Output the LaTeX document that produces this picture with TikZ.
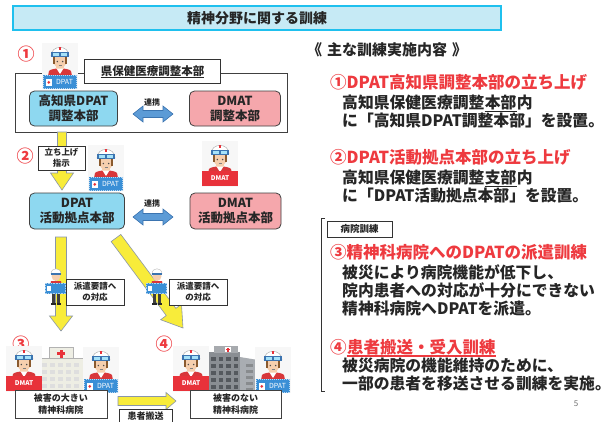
\documentclass[tikz,border=0pt]{standalone}
\usepackage{fontspec}
\setmainfont{Noto Sans CJK JP}
\usetikzlibrary{calc}

\definecolor{ttlfill}{HTML}{C6EAF5}
\definecolor{ttlline}{HTML}{1FC0EE}
\definecolor{hqblue}{HTML}{8ED8F0}
\definecolor{hqpink}{HTML}{F5A7AC}
\definecolor{redtxt}{HTML}{EE3A3F}
\definecolor{inkdark}{HTML}{262626}
\definecolor{yel}{HTML}{F8EC3A}
\definecolor{yelline}{HTML}{8A96A8}
\definecolor{linkblue}{HTML}{5C9BD6}
\definecolor{linkline}{HTML}{3B74B0}
\definecolor{dpatblue}{HTML}{3A8FD6}
\definecolor{dmatred}{HTML}{E8323A}
\definecolor{skin}{HTML}{F6CFAE}
\definecolor{vest}{HTML}{D8373A}
\definecolor{hair}{HTML}{8A5A2E}
\definecolor{hospwhite}{HTML}{EEEEE4}
\definecolor{bldg}{HTML}{8A8E93}
\definecolor{bldgside}{HTML}{A9ADB2}
\definecolor{bldgdark}{HTML}{55595E}

% block arrow: [style]{start}{end}{shaft half width}{head half width}{head length}
\newcommand\blockarrow[6][]{%
  \path ($(#3)!#6!(#2)$) coordinate (ba-h);
  \filldraw[#1] ($(#2)!#4!90:(#3)$) -- ($(ba-h)!#4!90:(#3)$) -- ($(ba-h)!#5!90:(#3)$)
    -- (#3) -- ($(ba-h)!#5!-90:(#3)$) -- ($(ba-h)!#4!-90:(#3)$) -- ($(#2)!#4!-90:(#3)$) -- cycle;
}
% double-headed block arrow, same arguments
\newcommand\twinarrow[6][]{%
  \path ($(#2)!#6!(#3)$) coordinate (ta-a) ($(#3)!#6!(#2)$) coordinate (ta-b);
  \filldraw[#1] (#2) -- ($(ta-a)!#5!90:(#3)$) -- ($(ta-a)!#4!90:(#3)$) -- ($(ta-b)!#4!-90:(#2)$)
    -- ($(ta-b)!#5!-90:(#2)$) -- (#3) -- ($(ta-b)!#5!90:(#2)$) -- ($(ta-b)!#4!90:(#2)$)
    -- ($(ta-a)!#4!-90:(#3)$) -- ($(ta-a)!#5!-90:(#3)$) -- cycle;
}
% rule under a text node: [style]{node}{drop below baseline}
\newcommand\underrule[3][]{%
  \draw[line width=1.1pt, #1] ([yshift=-#3]#2.base west) -- ([yshift=-#3]#2.base east);
}

% helmeted staff member, origin at top left, 36 x 46
\newcommand\workerhead{%
  \fill[black!3] (0,0) rectangle (36,46);
  \fill[vest] (5,38) -- (7,28) .. controls (10,24.5) and (26,24.5) .. (29,28) -- (31,38) -- cycle;
  \fill[skin] (14,22) rectangle (22,26);
  \fill[white] (14.5,25.5) -- (18,31) -- (21.5,25.5) -- cycle;
  \fill[skin] (18,18) ellipse [x radius=6.5, y radius=7];
  \fill[hair] (11,12) rectangle (12.8,21);
  \fill[hair] (23.2,12) rectangle (25,21);
  \filldraw[fill=white, draw=black!35, line width=0.4pt] (9,13) .. controls (9,1.5) and (27,1.5) .. (27,13) -- cycle;
  \fill[dmatred] (17,3.8) rectangle (19,7);
  \fill[linkline] (9,9) rectangle (27,13.5);
  \fill[cyan!35] (10.8,10) rectangle (17.2,12.6);
  \fill[cyan!35] (18.8,10) rectangle (25.2,12.6);
  \fill[black!70] (15.3,18.5) circle (0.8);
  \fill[black!70] (20.7,18.5) circle (0.8);
  \draw[black!50, line width=0.4pt] (16.5,22) -- (19.5,22);
}

\tikzset{
  every node/.style={inner sep=0pt, text=inkdark, font=\bfseries},
  hqbox/.style={draw=black!75, line width=0.8pt, rounded corners=5pt, align=center,
    font=\fontsize{12.5}{15}\selectfont\bfseries, minimum height=35pt},
  dpatbox/.style={hqbox, fill=hqblue},
  dmatbox/.style={hqbox, fill=hqpink},
  tagbox/.style={draw=black!80, fill=white, line width=0.8pt, align=center, inner sep=2pt,
    font=\fontsize{8.5}{11}\selectfont\bfseries},
  wardbox/.style={draw=black!75, fill=white, line width=0.9pt, align=center,
    font=\fontsize{9}{12}\selectfont\bfseries, minimum height=28pt},
  circnum/.style={text=redtxt, font=\fontsize{17}{17}\selectfont\bfseries},
  linktxt/.style={font=\fontsize{8}{8}\selectfont\bfseries},
  yarrow/.style={fill=yel, draw=yelline, line width=0.6pt, line join=miter},
  barrow/.style={fill=linkblue, draw=linkline, line width=0.6pt},
  redline/.style={anchor=base west, text=redtxt, font=\fontsize{16.5}{18}\selectfont\bfseries},
  blkline/.style={anchor=base west, text=inkdark, font=\fontsize{15.8}{18}\selectfont\bfseries},
  dpatworker/.pic={\workerhead
    \fill[dpatblue] (1,32) rectangle (35,46);
    \draw[white!65!dpatblue, line width=0.5pt, dash pattern=on 1pt off 1pt] (1.5,32.5) rectangle (34.5,45.5);
    \fill[white] (3.5,36) rectangle (10,42.5);
    \fill[dmatred] (6.75,39.25) circle (1.5);
    \node[text=white, font=\fontsize{7}{7}\selectfont] at (22.5,39.3) {DPAT};},
  dmatworker/.pic={\workerhead
    \fill[dmatred] (0,30) rectangle (36,45);
    \node[text=white, font=\fontsize{6.5}{7}\selectfont\bfseries] at (18,37.5) {DMAT};},
  smallworker/.pic={
    \fill[vest] (5,20) -- (6,14) -- (16,14) -- (17,20) -- cycle;
    \fill[skin] (11,9) ellipse [x radius=4.5, y radius=5];
    \filldraw[fill=white, draw=black!35, line width=0.3pt] (6,7) .. controls (6,0) and (16,0) .. (16,7) -- cycle;
    \fill[linkline] (6,5.5) rectangle (16,8);
    \fill[dpatblue] (0,16) rectangle (21,27);
    \draw[white!60!dpatblue, dash pattern=on 0.8pt off 0.8pt, line width=0.4pt] (0.4,16.4) rectangle (20.6,26.6);
    \fill[white] (2,19) rectangle (6,23.5);
    \fill[black!75] (7,27) rectangle (10.3,36);
    \fill[black!75] (11.7,27) rectangle (15,36);
    \fill[black!85] (6,36) rectangle (10.5,38);
    \fill[black!85] (11.5,36) rectangle (16,38);},
}

\begin{document}
\begin{tikzpicture}[x=1pt, y=-1pt]
\useasboundingbox (0,0) rectangle (616,421);
\clip (0,0) rectangle (616,421);
\fill[white] (0,0) rectangle (616,421);

% ---- heading ----
\node[draw=ttlline, fill=ttlfill, line width=2pt, minimum width=488pt, minimum height=24pt,
  font=\fontsize{14}{14}\selectfont\bfseries] (title) at (257,18) {精神分野に関する訓練};

% ---- stage 1: prefectural coordination HQ ----
\node[draw=black!75, line width=0.8pt, minimum width=272pt, minimum height=59pt] (pref) at (151,102.5) {};
\node[tagbox, minimum width=136pt, minimum height=24pt] (preflbl) at (152.5,71) {};
\node[font=\fontsize{11.5}{12}\selectfont\bfseries] (preftxt) at (152.5,71) {県保健医療調整本部};
\underrule[inkdark, line width=1pt]{preftxt}{2.6pt}
\node[dpatbox, minimum width=88pt] (dpathq) at (73.5,108.5) {高知県DPAT\\調整本部};
\node[dmatbox, minimum width=91pt] (dmathq) at (235,108.5) {DMAT\\調整本部};
\coordinate (l1a) at (133,114);
\coordinate (l1b) at (173,114);
\twinarrow[barrow]{l1a}{l1b}{3.5pt}{8pt}{10pt}
\node[linktxt] (link1) at (152,102) {連携};
\node[circnum] (n1) at (26,54) {①};
\pic at (42,43) {dpatworker};

% ---- stage 2: activity base HQ ----
\coordinate (a1s) at (62,132);
\coordinate (a1e) at (62,190);
\blockarrow[yarrow]{a1s}{a1e}{4.5pt}{11.5pt}{17pt}
\node[tagbox, minimum width=47pt, minimum height=24pt] (order) at (61.5,158) {立ち上げ\\指示};
\node[circnum] (n2) at (25,156) {②};
\pic at (88,145) {dpatworker};
\pic at (202,141) {dmatworker};
\node[dpatbox, minimum width=95pt, minimum height=36pt] (dpatbase) at (77,211) {DPAT\\活動拠点本部};
\node[dmatbox, minimum width=91pt, minimum height=36pt] (dmatbase) at (235.5,211) {DMAT\\活動拠点本部};
\coordinate (l2a) at (133,217);
\coordinate (l2b) at (173,217);
\twinarrow[barrow]{l2a}{l2b}{3.5pt}{8pt}{10pt}
\node[linktxt] (link2) at (152,203) {連携};

% ---- dispatch to hospitals ----
\coordinate (a2s) at (61,237);
\coordinate (a2e) at (61,331);
\blockarrow[yarrow]{a2s}{a2e}{5.5pt}{11.5pt}{15pt}
\coordinate (a3s) at (116,238);
\coordinate (a3e) at (183,328);
\blockarrow[yarrow]{a3s}{a3e}{6pt}{13pt}{20pt}
\pic at (45,267) {smallworker};
\pic at (146,267) {smallworker};
\node[tagbox, minimum width=58pt, minimum height=26pt] (req1) at (95,292) {派遣要請へ\\の対応};
\node[tagbox, minimum width=58pt, minimum height=26pt] (req2) at (198,292) {派遣要請へ\\の対応};

% ---- stage 3: damaged psychiatric hospital ----
\node[circnum] (n3) at (21,344) {③};
\filldraw[fill=hospwhite, draw=black!30, line width=0.5pt] (49,347) rectangle (73,362);
\filldraw[fill=hospwhite, draw=black!30, line width=0.5pt] (38,358) rectangle (83,393);
\fill[dmatred] (59.5,349.5) rectangle (62.5,358);
\fill[dmatred] (57,352.3) rectangle (65,355.3);
\foreach \i in {0,...,4} \foreach \j in {0,...,3}
  \fill[black!13] ({42+\i*8},{363+\j*7}) rectangle +(5,4);
\pic at (6,346) {dmatworker};
\pic at (83,347) {dpatworker};
\node[wardbox, minimum width=92pt] (ward1) at (61,404) {被害の大きい\\精神科病院};

% ---- stage 4: undamaged psychiatric hospital ----
\node[circnum] (n4) at (164,344) {④};
\fill[bldgside] (240,357) -- (258,360) -- (258,393) -- (240,393) -- cycle;
\fill[bldg] (208,352) rectangle (240,393);
\fill[bldg!75!white] (214,346) rectangle (238,353);
\fill[white] (225,347) rectangle (231,352);
\fill[dmatred] (227.3,347.5) rectangle (228.7,351.5);
\fill[dmatred] (226,348.8) rectangle (230,350.2);
\foreach \i in {0,...,3} \foreach \j in {0,...,4}
  \fill[bldgdark] ({211+\i*7.5},{357+\j*7}) rectangle +(4.5,4);
\foreach \j in {0,...,4}
  \fill[bldgdark!70] (246,{364+\j*6}) rectangle +(7,3);
\pic at (173,346) {dmatworker};
\pic at (255,347) {dpatworker};
\node[wardbox, minimum width=91pt] (ward2) at (235.5,404) {被害のない\\精神科病院};

% ---- patient transfer ----
\coordinate (a4s) at (118,401);
\coordinate (a4e) at (176,401);
\blockarrow[yarrow]{a4s}{a4e}{4.5pt}{8.5pt}{10pt}
\node[tagbox, minimum width=53pt, minimum height=14pt, font=\fontsize{9}{10}\selectfont\bfseries]
  (move) at (145.5,416) {患者搬送};

% ---- training summary ----
\node[anchor=west, font=\fontsize{15}{15}\selectfont\bfseries] (menu) at (307,50)
  {《\hspace{5pt}主な訓練実施内容\hspace{5pt}》};

\node[redline] (t1) at (330,88) {①DPAT高知県調整本部の立ち上げ};
\node[blkline] (t1a) at (342,108) {高知県保健医療調整};
\node[blkline] (t1u) at (t1a.base east) {本部};
\node[blkline] (t1z) at (t1u.base east) {内};
\underrule[inkdark]{t1u}{3.8pt}
\node[blkline] (t1b) at (342,126) {に「高知県DPAT調整本部」を設置。};

\node[redline] (t2) at (330,163) {②DPAT活動拠点本部の立ち上げ};
\node[blkline] (t2a) at (342,183) {高知県保健医療調整};
\node[blkline] (t2u) at (t2a.base east) {支部};
\node[blkline] (t2z) at (t2u.base east) {内};
\underrule[inkdark]{t2u}{3.8pt}
\node[blkline] (t2b) at (342,201) {に「DPAT活動拠点本部」を設置。};

\draw[black!80, line width=0.9pt] (325,218) -- (321,218) -- (321,391) -- (325,391);
\node[tagbox, minimum width=65pt, minimum height=16pt, font=\fontsize{9.5}{10}\selectfont\bfseries]
  (hosp) at (359.5,229) {病院訓練};
\node[redline] (t3) at (330,258) {③精神科病院へのDPATの派遣訓練};
\node[blkline] (t3a) at (342,278) {被災により病院機能が低下し、};
\node[blkline] (t3b) at (342,296) {院内患者への対応が十分にできない};
\node[blkline] (t3c) at (342,314) {精神科病院へDPATを派遣。};

\node[redline] (t4) at (330,353) {④};
\node[redline] (t4u) at (t4.base east) {患者搬送・受入訓練};
\underrule[redtxt]{t4u}{3pt}
\node[blkline] (t4a) at (342,371) {被災病院の機能維持のために、};
\node[blkline] (t4b) at (342,389) {一部の患者を移送させる訓練を実施。};

\node[text=black!55, font=\fontsize{8}{8}\selectfont] (page) at (576,404) {5};
\end{tikzpicture}
\end{document}
